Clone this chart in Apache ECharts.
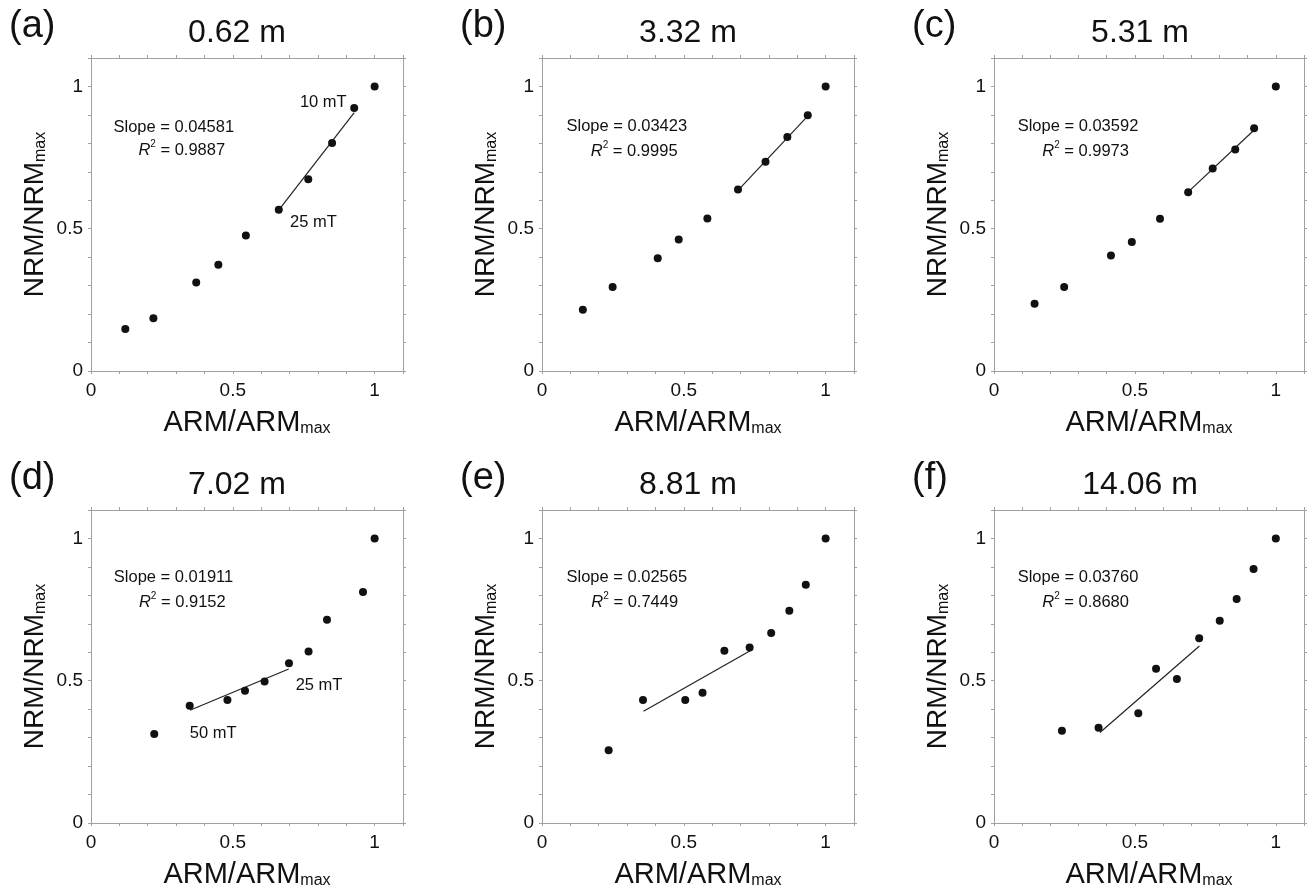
<!DOCTYPE html>
<html><head><meta charset="utf-8">
<script src="https://cdn.jsdelivr.net/npm/echarts@6/dist/echarts.min.js"></script>
<style>html,body{margin:0;padding:0;background:#fff}#c{width:1307px;height:890px}</style>
</head><body><div id="c"></div>
<script>
// ---- data ----
const panelLetters = ['(a)', '(b)', '(c)', '(d)', '(e)', '(f)'];
const depths = ['0.62 m', '3.32 m', '5.31 m', '7.02 m', '8.81 m', '14.06 m'];
const slopes = ['0.04581', '0.03423', '0.03592', '0.01911', '0.02565', '0.03760'];
const r2s = ['0.9887', '0.9995', '0.9973', '0.9152', '0.7449', '0.8680'];

const armA = [0.121, 0.220, 0.371, 0.449, 0.546, 0.662, 0.766, 0.850, 0.928, 1];
const nrmA = [0.148, 0.185, 0.311, 0.373, 0.476, 0.567, 0.674, 0.801, 0.924, 1];
const armB = [0.144, 0.249, 0.408, 0.482, 0.583, 0.691, 0.788, 0.865, 0.937, 1];
const nrmB = [0.215, 0.295, 0.396, 0.462, 0.536, 0.638, 0.735, 0.822, 0.899, 1];
const armC = [0.144, 0.249, 0.415, 0.489, 0.589, 0.689, 0.776, 0.856, 0.923, 1];
const nrmC = [0.236, 0.295, 0.406, 0.453, 0.535, 0.628, 0.712, 0.778, 0.853, 1];
const armD = [0.223, 0.348, 0.481, 0.543, 0.612, 0.698, 0.767, 0.832, 0.959, 1];
const nrmD = [0.313, 0.412, 0.432, 0.465, 0.497, 0.561, 0.603, 0.714, 0.812, 1];
const armE = [0.235, 0.356, 0.505, 0.566, 0.643, 0.732, 0.808, 0.872, 0.930, 1];
const nrmE = [0.256, 0.432, 0.432, 0.458, 0.605, 0.617, 0.668, 0.746, 0.837, 1];
const armF = [0.241, 0.371, 0.512, 0.575, 0.649, 0.728, 0.801, 0.861, 0.921, 1];
const nrmF = [0.324, 0.335, 0.386, 0.542, 0.506, 0.649, 0.711, 0.787, 0.893, 1];

// fitted line end points [x1, y1, x2, y2]
const fitA = [0.670, 0.576, 0.928, 0.908];
const fitB = [0.696, 0.640, 0.935, 0.894];
const fitC = [0.694, 0.634, 0.923, 0.847];
const fitD = [0.349, 0.396, 0.697, 0.541];
const fitE = [0.358, 0.393, 0.734, 0.605];
const fitF = [0.376, 0.318, 0.729, 0.622];

// field-step labels: [text, x, y] per panel
const stepLabels = [
  [['10 mT', 0.819, 0.949], ['25 mT', 0.784, 0.529]],
  [], [],
  [['25 mT', 0.804, 0.490], ['50 mT', 0.431, 0.319]],
  [], []
];
// annotation anchor positions (data coords): slope line, R2 line
const slopePos = [[0.292, 0.862], [0.299, 0.865], [0.298, 0.865], [0.291, 0.867], [0.299, 0.867], [0.298, 0.867]];
const r2Pos = [[0.320, 0.779], [0.325, 0.776], [0.325, 0.776], [0.322, 0.779], [0.327, 0.779], [0.325, 0.779]];

const xTickLabels = ['0', '0.5', '1'];
const yTickLabels = ['0', '0.5', '1'];

// ---- layout ----
const arms = [armA, armB, armC, armD, armE, armF];
const nrms = [nrmA, nrmB, nrmC, nrmD, nrmE, nrmF];
const fits = [fitA, fitB, fitC, fitD, fitE, fitF];
const lefts = [91, 542, 994];
const tops = [58, 510];
const GW = 312, GH = 313;
const FONT = '"Liberation Sans", Arial, Helvetica, sans-serif';
const TXT = '#111';
const AX = '#a0a0a0';

function tickFmt(list) {
  return function (v) {
    for (const s of list) { if (Math.abs(v - parseFloat(s)) < 1e-6) return s; }
    return '';
  };
}

const grid = [], xAxis = [], yAxis = [], series = [], graphic = [];
for (let i = 0; i < 6; i++) {
  const L = lefts[i % 3], T = tops[Math.floor(i / 3)];
  grid.push({ left: L, top: T, width: GW, height: GH, containLabel: false });
  const common = {
    type: 'value', min: 0, max: 1.1, interval: 0.1, gridIndex: i,
    splitLine: { show: false },
    axisLine: { show: true, onZero: false, lineStyle: { color: AX, width: 1 } },
    axisTick: { show: true, inside: false, length: 3, lineStyle: { color: AX } }
  };
  xAxis.push(Object.assign({}, common, {
    position: 'bottom',
    axisLabel: { formatter: tickFmt(xTickLabels), fontSize: 19, color: TXT, fontFamily: FONT, margin: 10, showMaxLabel: true, showMinLabel: true },
    name: '{a|ARM/ARM}{b|max}', nameLocation: 'middle', nameGap: 34,
    nameTextStyle: { rich: {
      a: { fontSize: 29, fontFamily: FONT, color: TXT, verticalAlign: 'bottom', lineHeight: 32 },
      b: { fontSize: 16, fontFamily: FONT, color: TXT, verticalAlign: 'bottom', lineHeight: 28 } } }
  }));
  xAxis.push(Object.assign({}, common, { position: 'top', axisLabel: { show: false } }));
  yAxis.push(Object.assign({}, common, {
    position: 'left',
    axisLabel: { formatter: tickFmt(yTickLabels), fontSize: 19, color: TXT, fontFamily: FONT, margin: 8 },
    name: '{a|NRM/NRM}{b|max}', nameLocation: 'middle', nameGap: 42,
    nameTextStyle: { rich: {
      a: { fontSize: 28, fontFamily: FONT, color: TXT, verticalAlign: 'bottom', lineHeight: 32 },
      b: { fontSize: 16, fontFamily: FONT, color: TXT, verticalAlign: 'bottom', lineHeight: 28 } } }
  }));
  yAxis.push(Object.assign({}, common, { position: 'right', axisLabel: { show: false } }));

  const xi = i * 2, yi = i * 2;
  series.push({
    type: 'scatter', xAxisIndex: xi, yAxisIndex: yi, symbolSize: 8,
    itemStyle: { color: '#111', opacity: 1 }, silent: true,
    data: arms[i].map((x, k) => [x, nrms[i][k]])
  });
  const f = fits[i];
  series.push({
    type: 'line', xAxisIndex: xi, yAxisIndex: yi, showSymbol: false, silent: true,
    lineStyle: { color: '#222', width: 1.2 }, z: 1,
    data: [[f[0], f[1]], [f[2], f[3]]]
  });
  const ann = [
    { value: slopePos[i], label: { formatter: '{n|Slope = ' + slopes[i] + '}' } },
    { value: r2Pos[i], label: { formatter: '{i|R}{s|2}{n| = ' + r2s[i] + '}' } }
  ];
  stepLabels[i].forEach(s => ann.push({ value: [s[1], s[2]], label: { formatter: '{n|' + s[0] + '}' } }));
  series.push({
    type: 'scatter', xAxisIndex: xi, yAxisIndex: yi, symbolSize: 0, silent: true,
    itemStyle: { opacity: 1 },
    data: ann,
    label: { show: true, position: 'inside', color: TXT, opacity: 1,
      rich: {
        n: { fontSize: 16.5, fontFamily: FONT, color: TXT, verticalAlign: 'bottom', lineHeight: 20 },
        i: { fontSize: 16.5, fontFamily: FONT, fontStyle: 'italic', color: TXT, verticalAlign: 'bottom', lineHeight: 20 },
        s: { fontSize: 10, fontFamily: FONT, color: TXT, verticalAlign: 'top', lineHeight: 12 }
      } }
  });

  graphic.push({ type: 'text', left: L - 82, top: T - 50,
    style: { text: panelLetters[i], font: '38px ' + FONT, fill: TXT } });
  graphic.push({ type: 'text', x: L + 146, y: T - 25,
    style: { text: depths[i], font: '32px ' + FONT, fill: TXT, textAlign: 'center', textVerticalAlign: 'middle' } });
}

const chart = echarts.init(document.getElementById('c'), null, { renderer: 'canvas' });
chart.setOption({ animation: false, backgroundColor: '#fff', grid, xAxis, yAxis, series, graphic });
</script></body></html>
